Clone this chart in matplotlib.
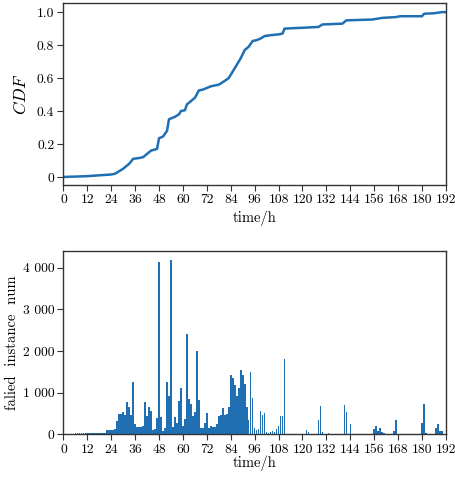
import matplotlib
matplotlib.use("Agg")
import matplotlib.pyplot as plt
from matplotlib.ticker import FuncFormatter, MultipleLocator

plt.rcParams["font.family"] = "cmr10"
plt.rcParams["mathtext.fontset"] = "cm"
plt.rcParams["axes.unicode_minus"] = False

# CDF curve
cdf_hours = [0, 12, 24, 26, 30, 33, 35, 38, 40, 44, 47, 48, 50, 52, 53, 56, 58, 59, 61, 62,
             64, 66, 68, 70, 72, 74, 78, 80, 83, 85, 87, 89, 91, 93, 95, 97, 99, 101, 104,
             108, 110, 111, 120, 128, 130, 140, 142, 155, 160, 167, 169, 180, 181, 186, 190, 192]
cdf_values = [0.0, 0.005, 0.015, 0.02, 0.05, 0.08, 0.11, 0.115, 0.12, 0.16, 0.17, 0.235, 0.245,
              0.28, 0.35, 0.365, 0.38, 0.40, 0.405, 0.44, 0.46, 0.48, 0.525, 0.53, 0.54, 0.55,
              0.56, 0.575, 0.60, 0.64, 0.68, 0.72, 0.77, 0.79, 0.825, 0.83, 0.84, 0.855, 0.86,
              0.865, 0.87, 0.90, 0.905, 0.91, 0.925, 0.93, 0.95, 0.955, 0.965, 0.97, 0.975,
              0.975, 0.99, 0.993, 1.0, 1.0]

# hourly failed instance counts, hours 0..190
failed_counts = [
    0, 0, 0, 0, 0, 0, 40, 40, 40, 40,            # 0-9
    40, 40, 40, 40, 40, 40, 40, 40, 40, 40,      # 10-19
    40, 40, 100, 100, 100, 100, 120, 320, 500, 490,  # 20-29
    550, 460, 780, 650, 460, 1270, 250, 180, 180, 180,  # 30-39
    200, 780, 440, 670, 570, 100, 130, 390, 4130, 430,  # 40-49
    80, 150, 1260, 920, 4190, 180, 420, 280, 800, 1110,  # 50-59
    200, 370, 2420, 850, 730, 450, 540, 2010, 820, 150,  # 60-69
    150, 270, 520, 160, 200, 180, 180, 240, 440, 460,    # 70-79
    640, 470, 500, 670, 1420, 1350, 1190, 920, 1110, 1540,  # 80-89
    1420, 1210, 670, 340, 1500, 880, 150, 110, 130, 570,   # 90-99
    470, 520, 60, 40, 70, 90, 60, 120, 200, 440,          # 100-109
    450, 1810, 20, 20, 20, 20, 20, 20, 20, 20,            # 110-119
    20, 20, 100, 50, 20, 20, 20, 20, 340, 680,            # 120-129
    60, 20, 20, 40, 20, 20, 20, 20, 20, 20,               # 130-139
    20, 700, 530, 20, 260, 20, 20, 20, 20, 20,            # 140-149
    20, 20, 20, 20, 20, 20, 130, 200, 90, 150,            # 150-159
    50, 40, 20, 20, 20, 20, 80, 340, 20, 20,              # 160-169
    20, 0, 0, 0, 20, 20, 20, 20, 20, 20,                  # 170-179
    280, 730, 40, 20, 20, 20, 20, 160, 240, 80,           # 180-189
    80,                                                   # 190
]
bar_hours = list(range(len(failed_counts)))

hour_ticks = list(range(0, 193, 12))
blue = "#1f6fb2"
spine_color = "#333333"

fig = plt.figure(figsize=(4.56, 4.79), dpi=100)
ax1 = fig.add_axes([0.139, 0.614, 0.839, 0.380])
ax2 = fig.add_axes([0.139, 0.093, 0.839, 0.382])

ax1.plot(cdf_hours, cdf_values, color=blue, linewidth=1.8)
ax1.set_xlim(0, 192)
ax1.set_ylim(-0.048, 1.056)
ax1.set_yticks([0, 0.2, 0.4, 0.6, 0.8, 1.0])
ax1.yaxis.set_major_formatter(FuncFormatter(lambda v, p: "0" if v == 0 else f"{v:.1f}"))
ax1.set_ylabel("$CDF$", fontsize=12.5, labelpad=6)
ax1.set_xlabel("time/h", fontsize=10.5, labelpad=3)

ax2.bar(bar_hours, failed_counts, width=0.8, color=blue, align="center")
ax2.set_xlim(0, 192)
ax2.set_ylim(0, 4390)
ax2.yaxis.set_major_locator(MultipleLocator(1000))
ax2.yaxis.set_major_formatter(
    FuncFormatter(lambda v, p: "0" if v == 0 else f"{int(v) // 1000} {int(v) % 1000:03d}"))
ax2.set_ylabel("falied  instance  num", fontsize=10.5, labelpad=3)
ax2.set_xlabel("time/h", fontsize=10.5, labelpad=0)

for ax in (ax1, ax2):
    ax.set_xticks(hour_ticks)
    ax.tick_params(labelsize=9.8, direction="out", length=4, width=0.8, color=spine_color, pad=2.5)
    for s in ax.spines.values():
        s.set_color(spine_color)
        s.set_linewidth(1.0)

plt.savefig("out.png", dpi=100)
